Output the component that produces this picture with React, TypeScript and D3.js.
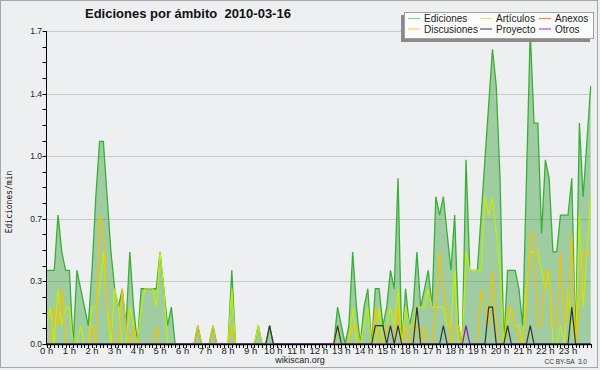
import React from 'react';
import * as d3 from 'd3';

// 10-minute slots from 0 h to 24 h, values in edits per minute
const hourLabels = ['0 h', '1 h', '2 h', '3 h', '4 h', '5 h', '6 h', '7 h', '8 h', '9 h', '10 h', '11 h',
  '12 h', '13 h', '14 h', '15 h', '16 h', '17 h', '18 h', '19 h', '20 h', '21 h', '22 h', '23 h'];
const yTicks = [0, 0.34, 0.68, 1.02, 1.36, 1.7];

const ediciones = [
  0.4, 0.4, 0.4, 0.7, 0.5, 0.4, 0.4, 0, 0.4, 0.3, 0.2, 0.1,
  0.4, 0.8, 1.1, 1.1, 0.8, 0.5, 0.3, 0.2, 0.3, 0.1, 0.5, 0.2,
  0, 0.3, 0.3, 0.3, 0.3, 0.3, 0.5, 0.3, 0.1, 0.2, 0, 0,
  0, 0, 0, 0, 0.1, 0, 0, 0, 0.1, 0, 0, 0,
  0, 0.4, 0, 0, 0, 0, 0, 0, 0.1, 0, 0, 0.1,
  0, 0, 0, 0, 0, 0, 0, 0, 0, 0, 0, 0,
  0, 0, 0, 0, 0, 0.2, 0.1, 0, 0.1, 0.5, 0.2, 0,
  0.2, 0.3, 0, 0.3, 0.3, 0.1, 0.2, 0.4, 0.3, 0.9, 0, 0.3,
  0.1, 0.2, 0.5, 0.2, 0.3, 0.4, 0.2, 0.8, 0.7, 0.8, 0.6, 0.4,
  0.7, 0.1, 0, 1.0, 0.4, 0.4, 0.4, 0.7, 1.0, 1.3, 1.6, 1.4,
  0.9, 0, 0.4, 0.4, 0.4, 0.3, 0.1, 0.9, 1.7, 1.2, 1.2, 0.6,
  1.0, 0.9, 0.5, 0.5, 0.7, 0.7, 0.7, 0.9, 0, 1.2, 0.8, 1.1,
  1.4,
];

const articulos = [
  0.1, 0.2, 0, 0.3, 0.1, 0.2, 0.2, 0, 0, 0.1, 0, 0,
  0.2, 0.2, 0.3, 0.5, 0.2, 0, 0.3, 0.2, 0, 0, 0.2, 0.1,
  0, 0.2, 0.3, 0.3, 0.3, 0.2, 0.5, 0.3, 0, 0, 0, 0,
  0, 0, 0, 0, 0, 0, 0, 0, 0, 0, 0, 0,
  0, 0.3, 0, 0, 0, 0, 0, 0, 0.1, 0, 0, 0,
  0, 0, 0, 0, 0, 0, 0, 0, 0, 0, 0, 0,
  0, 0, 0, 0, 0, 0.1, 0, 0, 0, 0.2, 0, 0,
  0.1, 0.2, 0, 0, 0.2, 0, 0.1, 0.2, 0.1, 0.3, 0, 0.2,
  0.1, 0.1, 0.2, 0.2, 0.2, 0.3, 0.2, 0.2, 0.2, 0.2, 0.1, 0.1,
  0.4, 0, 0, 0.5, 0.4, 0.4, 0.4, 0.4, 0.8, 0.7, 0.8, 0.6,
  0.4, 0, 0.1, 0.2, 0.1, 0.1, 0, 0.3, 0.5, 0.5, 0.5, 0.4,
  0.3, 0.4, 0, 0, 0.1, 0, 0.3, 0.1, 0, 0.7, 0.2, 0.5,
  0.8,
];

const discusiones = [
  0, 0, 0.2, 0.1, 0.3, 0, 0, 0, 0, 0, 0, 0,
  0.1, 0, 0.7, 0.6, 0.2, 0.1, 0, 0, 0.3, 0.1, 0, 0.1,
  0, 0, 0, 0, 0, 0.1, 0, 0, 0, 0, 0, 0,
  0, 0, 0, 0, 0.1, 0, 0, 0, 0.1, 0, 0, 0,
  0, 0.1, 0, 0, 0, 0, 0, 0, 0, 0, 0, 0,
  0, 0, 0, 0, 0, 0, 0, 0, 0, 0, 0, 0,
  0, 0, 0, 0, 0, 0, 0, 0, 0, 0.1, 0.1, 0,
  0, 0, 0, 0.2, 0, 0, 0.1, 0.1, 0, 0.2, 0, 0.1,
  0, 0.1, 0.1, 0, 0.1, 0, 0, 0.2, 0.5, 0.3, 0.2, 0,
  0.1, 0.1, 0, 0.1, 0, 0, 0, 0.3, 0.2, 0.1, 0.4, 0.1,
  0, 0, 0.2, 0.2, 0.1, 0, 0, 0.2, 0.6, 0.6, 0.1, 0.1,
  0.4, 0.4, 0.1, 0.1, 0.5, 0.1, 0.2, 0.6, 0, 0.2, 0.5, 0.5,
  0.5,
];

const proyecto = [
  0, 0, 0, 0, 0, 0, 0, 0, 0, 0, 0, 0,
  0, 0, 0, 0, 0, 0, 0, 0, 0, 0, 0, 0,
  0, 0, 0, 0, 0, 0, 0, 0, 0, 0, 0, 0,
  0, 0, 0, 0, 0, 0, 0, 0, 0, 0, 0, 0,
  0, 0, 0, 0, 0, 0, 0, 0, 0, 0, 0, 0.1,
  0, 0, 0, 0, 0, 0, 0, 0, 0, 0, 0, 0,
  0, 0, 0, 0, 0, 0.1, 0, 0, 0, 0, 0, 0,
  0, 0, 0, 0.1, 0.1, 0.1, 0, 0.1, 0, 0.1, 0, 0,
  0, 0, 0.2, 0, 0, 0, 0, 0, 0, 0.1, 0, 0,
  0, 0, 0, 0, 0, 0, 0, 0, 0, 0.2, 0.2, 0,
  0, 0, 0.1, 0, 0, 0, 0, 0, 0.1, 0, 0, 0,
  0, 0, 0, 0, 0, 0, 0, 0.2, 0, 0, 0, 0,
  0,
];

const otros = [
  0, 0, 0, 0, 0, 0, 0, 0, 0, 0, 0, 0,
  0, 0, 0, 0, 0, 0, 0, 0, 0, 0, 0, 0,
  0, 0, 0, 0, 0, 0, 0, 0, 0, 0, 0, 0,
  0, 0, 0, 0, 0, 0, 0, 0, 0, 0, 0, 0,
  0, 0, 0, 0, 0, 0, 0, 0, 0, 0, 0, 0,
  0, 0, 0, 0, 0, 0, 0, 0, 0, 0, 0, 0,
  0, 0, 0, 0, 0, 0, 0, 0, 0, 0, 0, 0,
  0, 0, 0, 0, 0, 0, 0, 0, 0, 0, 0, 0,
  0, 0, 0, 0, 0, 0, 0, 0, 0, 0, 0, 0,
  0, 0, 0, 0.1, 0, 0, 0, 0, 0, 0, 0, 0,
  0, 0, 0, 0, 0, 0, 0, 0, 0, 0, 0, 0,
  0, 0, 0, 0, 0, 0, 0, 0, 0, 0, 0, 0,
  0,
];

// legend: two rows of three
const legendNames = [['Ediciones', 'Artículos', 'Anexos'], ['Discusiones', 'Proyecto', 'Otros']];
const legendColors = [['#8fd08f', '#d4f27a', '#f0865a'], ['#f7d46a', '#555555', '#9a55ee']];

const colors = {
  edFill: '#289828',
  edLine: '#38b038',
  articulos: '#c2ef00',
  discusiones: '#f5c200',
  proyecto: '#333333',
  otros: '#6a1fe0',
};

const App = () => {
  const x = d3.scaleLinear().domain([0, ediciones.length - 1]).range([46.7, 590.7]);
  const y = d3.scaleLinear().domain([0, 1.7]).range([344, 31]);

  const line = d3.line<number>().x((d, i) => x(i)).y(d => y(d));
  const area = d3.area<number>().x((d, i) => x(i)).y0(y(0)).y1(d => y(d));

  const minorY = d3.range(0, 21).map(k => k * 0.085);
  const slotTicks = d3.range(0, ediciones.length);
  const font = '"Liberation Sans", Arial, sans-serif';

  const legendCols = [408, 480, 539];
  const legendRows = [18.5, 29];

  return (
    <svg width={600} height={370} style={{ position: 'absolute', left: 0, top: 0 }}
      fontFamily={font}>
      <rect x={0} y={0} width={600} height={370} fill="#eeeff1" />
      <rect x={0.5} y={0.5} width={597} height={367} fill="none" stroke="#a8a8a8" />

      <text x={85} y={18} fontSize={13} fontWeight="bold" fill="#111" style={{ whiteSpace: 'pre' }}>
        {'Ediciones por ámbito  2010-03-16'}
      </text>

      {yTicks.slice(1).map(t => (
        <line key={'g' + t} x1={x(0)} x2={x(ediciones.length - 1)} y1={Math.round(y(t)) + 0.5}
          y2={Math.round(y(t)) + 0.5} stroke="#c9c9c9" />
      ))}

      <path d={area(ediciones) || ''} fill={colors.edFill} fillOpacity={0.4} />
      <path d={line(ediciones) || ''} fill="none" stroke={colors.edLine} strokeWidth={1.3} />
      <path d={line(articulos) || ''} fill="none" stroke={colors.articulos} strokeWidth={1.2} />
      <path d={line(discusiones) || ''} fill="none" stroke={colors.discusiones} strokeWidth={1.2} />
      <path d={line(proyecto) || ''} fill="none" stroke={colors.proyecto} strokeWidth={1.2} />
      <path d={line(otros) || ''} fill="none" stroke={colors.otros} strokeWidth={1.2} />

      {/* y axis */}
      <line x1={46.5} x2={46.5} y1={y(1.7)} y2={y(0)} stroke="#000" />
      {minorY.map(t => (
        <line key={'yt' + t} x1={42.5} x2={46.5} y1={Math.round(y(t)) + 0.5} y2={Math.round(y(t)) + 0.5}
          stroke="#000" />
      ))}
      {yTicks.map(t => (
        <text key={'yl' + t} x={42} y={y(t) + 3} fontSize={8.5} textAnchor="end" fill="#222">
          {d3.format('.1f')(t)}
        </text>
      ))}
      <text transform={`translate(12,202) rotate(-90)`} fontSize={8} textAnchor="middle" fill="#111"
        fontFamily='"DejaVu Sans Mono", monospace'>
        Ediciones/min
      </text>

      {/* x axis */}
      <line x1={46} x2={591} y1={344.5} y2={344.5} stroke="#000" strokeWidth={1.5} />
      {slotTicks.map(i => (
        <line key={'xt' + i} x1={Math.round(x(i)) + 0.5} x2={Math.round(x(i)) + 0.5} y1={344} y2={348}
          stroke="#000" />
      ))}
      {hourLabels.map((h, k) => (
        <text key={h} x={x(k * 6)} y={354} fontSize={9.5} textAnchor="middle" fill="#222">{h}</text>
      ))}

      <text x={300} y={363} fontSize={9} textAnchor="middle" fill="#222">wikiscan.org</text>
      <text x={587} y={363.5} fontSize={6.5} textAnchor="end" fill="#333" style={{ whiteSpace: 'pre' }}>
        {'CC BY-SA  3.0'}
      </text>

      {/* legend */}
      <rect x={401} y={15} width={189} height={27} fill="#8a8a8a" />
      <rect x={404.5} y={12.5} width={189} height={26} fill="#fbfbfb" stroke="#a0a0a0" />
      {legendNames.map((row, r) => row.map((name, c) => (
        <g key={name}>
          <line x1={legendCols[c]} x2={legendCols[c] + 12} y1={legendRows[r]} y2={legendRows[r]}
            stroke={legendColors[r][c]} strokeWidth={1.2} />
          <text x={legendCols[c] + 16} y={legendRows[r] + 3.5} fontSize={10} fill="#222">{name}</text>
        </g>
      )))}
    </svg>
  );
};

export default App;
